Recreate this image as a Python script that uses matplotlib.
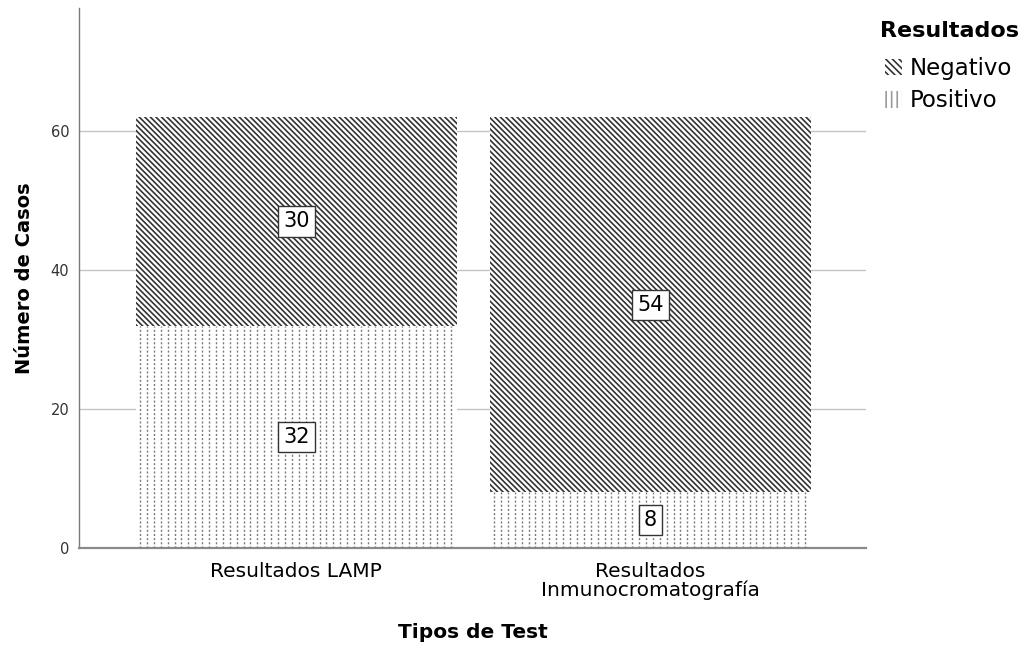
import numpy as np
import matplotlib
matplotlib.use("Agg")
import matplotlib.pyplot as plt
from matplotlib.patches import Patch

# datos
categorias = ["Resultados LAMP", "Resultados\nInmunocromatografía"]
positivo = [32, 8]
negativo = [30, 54]
resultados = ["Negativo", "Positivo"]

plt.rcParams["font.family"] = ["DejaVu Sans"]
plt.rcParams["hatch.linewidth"] = 1.2

fig = plt.figure(figsize=(10.24, 6.48), dpi=100)
ax = fig.add_axes([0.0771, 0.1543, 0.7686, 0.8334])

x = np.arange(len(categorias))
ancho = 0.907

bars_pos = ax.bar(x, positivo, ancho, color="white", linewidth=0, zorder=2)
bars_neg = ax.bar(x, negativo, ancho, bottom=positivo, color="white",
                  edgecolor="#333333", hatch="\\" * 6, linewidth=0, zorder=2)

# lineas punteadas verticales para "Positivo"
paso = 0.0195
for b in bars_pos:
    x0, y0, w, h = b.get_x(), b.get_y(), b.get_width(), b.get_height()
    xs = np.arange(x0 + 0.012, x0 + w, paso)
    ax.vlines(xs, y0, y0 + h, colors="#7a7a7a", linewidth=1.0,
              linestyles=(0, (1.5, 1.5)), zorder=3, clip_path=b)

# etiquetas con caja
for i in range(len(categorias)):
    for val, base in [(positivo[i], 0), (negativo[i], positivo[i])]:
        ax.text(x[i], base + val / 2, str(val), ha="center", va="center",
                fontsize=15, zorder=5,
                bbox=dict(boxstyle="square,pad=0.25", facecolor="white",
                          edgecolor="#333333", linewidth=1.0))

ax.set_xlim(-0.614, 1.609)
ax.set_ylim(0, 77.7)
ax.set_yticks([0, 20, 40, 60])
ax.set_xticks(x)
ax.set_xticklabels(categorias, fontsize=14.5, linespacing=0.95)
ax.tick_params(axis="both", length=0)
ax.tick_params(axis="y", labelsize=10.5, pad=7, colors="#333333")
ax.tick_params(axis="x", pad=10)
ax.yaxis.grid(True, color="#c4c4c4", linewidth=1.0, zorder=0)
ax.set_axisbelow(True)

for s in ["top", "right"]:
    ax.spines[s].set_visible(False)
ax.spines["left"].set_color("#7a7a7a")
ax.spines["left"].set_linewidth(1.0)
ax.spines["bottom"].set_color("#8a8a8a")
ax.spines["bottom"].set_linewidth(1.6)

ax.set_ylabel("Número de Casos", fontsize=14, fontweight="bold", labelpad=12)
ax.set_xlabel("Tipos de Test", fontsize=14.5, fontweight="bold")
ax.xaxis.set_label_coords(0.5, -0.138)

# leyenda
fig.text(0.859, 1 - 31 / 648, "Resultados", fontsize=16, fontweight="bold",
         ha="left", va="center")
handles = [
    Patch(facecolor="white", edgecolor="#333333", hatch="\\" * 5, linewidth=0),
    Patch(facecolor="white", edgecolor="#9a9a9a", hatch="|||", linewidth=0),
]
leg = fig.legend(handles, resultados, loc="upper left",
                 bbox_to_anchor=(0.864, 0.912), frameon=False, fontsize=16.5,
                 handlelength=0.74, handleheight=0.74,
                 handletextpad=0.35, labelspacing=0.4, borderpad=0.0,
                 borderaxespad=0.0)

fig.savefig("out.png", dpi=100)
